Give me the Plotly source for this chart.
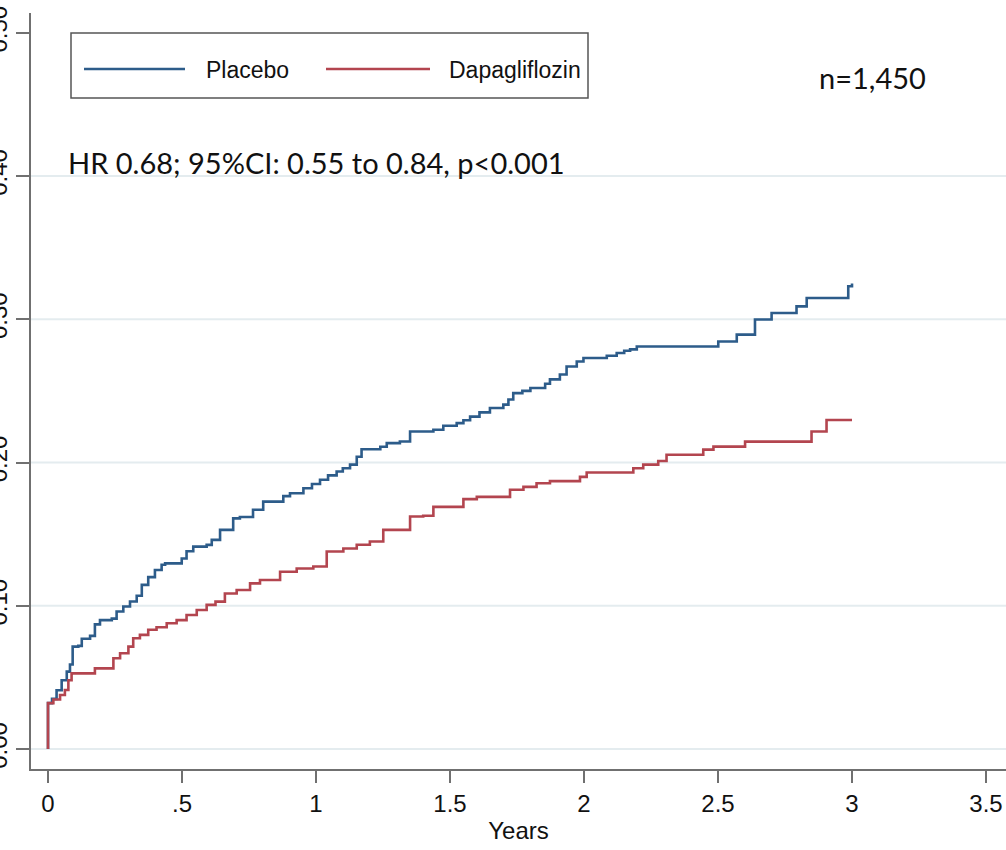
import plotly.graph_objects as go

# ---------------- data ----------------
placebo_t = [0, 0, 0.015, 0.032, 0.051, 0.070, 0.082, 0.092, 0.113, 0.126, 0.157, 0.175, 0.194,
             0.238, 0.256, 0.281, 0.306, 0.331, 0.350, 0.374, 0.399, 0.424, 0.437, 0.499, 0.517,
             0.542, 0.592, 0.611, 0.642, 0.691, 0.716, 0.765, 0.803, 0.878, 0.903, 0.953, 0.985,
             1.015, 1.045, 1.077, 1.100, 1.127, 1.152, 1.170, 1.240, 1.264, 1.313, 1.351, 1.438,
             1.475, 1.525, 1.550, 1.575, 1.610, 1.649, 1.699, 1.718, 1.736, 1.770, 1.800, 1.855,
             1.873, 1.910, 1.935, 1.973, 1.998, 2.085, 2.122, 2.150, 2.172, 2.197, 2.501, 2.570,
             2.638, 2.700, 2.793, 2.831, 2.986, 3.000]
placebo_v = [0, 0.032, 0.035, 0.041, 0.048, 0.054, 0.059, 0.0715, 0.072, 0.077, 0.079, 0.087, 0.090,
             0.091, 0.096, 0.0995, 0.103, 0.107, 0.1146, 0.120, 0.125, 0.1286, 0.1296, 0.133, 0.138,
             0.1413, 0.1425, 0.146, 0.153, 0.161, 0.162, 0.167, 0.1727, 0.1765, 0.1785, 0.182, 0.185,
             0.188, 0.191, 0.1937, 0.196, 0.1985, 0.204, 0.2093, 0.211, 0.2135, 0.2147, 0.2216, 0.2229,
             0.2257, 0.2275, 0.2295, 0.232, 0.235, 0.238, 0.2404, 0.244, 0.2484, 0.250, 0.252, 0.255,
             0.258, 0.2614, 0.267, 0.2705, 0.273, 0.2745, 0.2764, 0.278, 0.279, 0.281, 0.2845, 0.2893,
             0.2998, 0.3044, 0.309, 0.3148, 0.323, 0.325]

dapa_t = [0, 0, 0.020, 0.045, 0.063, 0.076, 0.088, 0.175, 0.244, 0.269, 0.300, 0.318, 0.343, 0.374,
          0.405, 0.443, 0.480, 0.517, 0.555, 0.592, 0.625, 0.660, 0.704, 0.754, 0.791, 0.866, 0.928,
          0.990, 1.040, 1.102, 1.152, 1.201, 1.251, 1.351, 1.400, 1.438, 1.550, 1.600, 1.724, 1.774,
          1.823, 1.873, 1.985, 2.010, 2.184, 2.221, 2.277, 2.308, 2.445, 2.483, 2.601, 2.849, 2.905,
          3.000]
dapa_v = [0, 0.032, 0.0346, 0.0377, 0.0412, 0.048, 0.0528, 0.0563, 0.0633, 0.0668, 0.0715, 0.0773,
          0.0797, 0.0832, 0.085, 0.0878, 0.090, 0.0935, 0.097, 0.1006, 0.1029, 0.1086, 0.111, 0.1156,
          0.118, 0.1237, 0.126, 0.1274, 0.1379, 0.140, 0.1426, 0.1449, 0.153, 0.1623, 0.1628, 0.169,
          0.1744, 0.176, 0.181, 0.183, 0.1855, 0.187, 0.190, 0.193, 0.196, 0.1985, 0.201, 0.2054,
          0.209, 0.2111, 0.2146, 0.2216, 0.2297, 0.2297]

series_names = ["Placebo", "Dapagliflozin"]
x_tickvals = [0, 0.5, 1, 1.5, 2, 2.5, 3, 3.5]
x_ticktext = ["0", ".5", "1", "1.5", "2", "2.5", "3", "3.5"]
y_tickvals = [0, 0.1, 0.2, 0.3, 0.4, 0.5]
y_ticktext = ["0.00", "0.10", "0.20", "0.30", "0.40", "0.50"]
hr_text = "HR 0.68; 95%CI: 0.55 to 0.84, p<0.001"
n_text = "n=1,450"
x_title = "Years"

# ---------------- styling ----------------
BLUE = "#2d5c8a"
RED = "#b3454f"
AXIS = "#707070"
GRID = "#e4ecef"
NARROW = "Liberation Sans Narrow, Arial Narrow, Liberation Sans, Arial, sans-serif"
HUMAN = "Lato, Carlito, Calibri, sans-serif"

W, H = 1006, 850
L, R, T, B = 31, 0, 13, 81

fig = go.Figure()
fig.add_trace(go.Scatter(x=placebo_t, y=placebo_v, mode="lines", name=series_names[0],
                         line=dict(color=BLUE, width=2.6, shape="hv"), showlegend=False))
fig.add_trace(go.Scatter(x=dapa_t, y=dapa_v, mode="lines", name=series_names[1],
                         line=dict(color=RED, width=2.6, shape="hv"), showlegend=False))

# horizontal gridlines (Stata style: not at the top tick)
for v in y_tickvals[:-1]:
    fig.add_shape(type="line", xref="paper", x0=0, x1=1, yref="y", y0=v, y1=v,
                  line=dict(color=GRID, width=2), layer="below")

pw = W - L - R
ph = H - T - B
def px(x):
    return (x - L) / pw
def py(y):
    return (H - B - y) / ph

# custom legend box
fig.add_shape(type="rect", xref="paper", yref="paper", x0=px(71), x1=px(588), y0=py(98), y1=py(33),
              line=dict(color="#555555", width=1.5), fillcolor="white")
fig.add_shape(type="line", xref="paper", yref="paper", x0=px(84), x1=px(185), y0=py(69), y1=py(69),
              line=dict(color=BLUE, width=2.6))
fig.add_shape(type="line", xref="paper", yref="paper", x0=px(326), x1=px(430), y0=py(69), y1=py(69),
              line=dict(color=RED, width=2.6))
fig.add_annotation(xref="paper", yref="paper", x=px(204), y=py(70), text=series_names[0],
                   showarrow=False, xanchor="left", yanchor="middle",
                   font=dict(family=NARROW, size=23, color="#111111"))
fig.add_annotation(xref="paper", yref="paper", x=px(447), y=py(70), text=series_names[1],
                   showarrow=False, xanchor="left", yanchor="middle",
                   font=dict(family=NARROW, size=23, color="#111111"))

fig.add_annotation(xref="paper", yref="paper", x=px(66), y=py(163), text=hr_text,
                   showarrow=False, xanchor="left", yanchor="middle",
                   font=dict(family=HUMAN, size=29, color="#111111"))
fig.add_annotation(xref="paper", yref="paper", x=px(817), y=py(78), text=n_text,
                   showarrow=False, xanchor="left", yanchor="middle",
                   font=dict(family=HUMAN, size=29, color="#111111"))

fig.update_layout(
    width=W, height=H,
    margin=dict(l=L, r=R, t=T, b=B, autoexpand=False),
    paper_bgcolor="white", plot_bgcolor="white",
    showlegend=False,
    font=dict(family=NARROW, color="#111111"),
)
fig.update_xaxes(range=[-17 / 268, (W - 48) / 268], tickvals=x_tickvals, ticktext=x_ticktext,
                 showgrid=False, zeroline=False, showline=True, linecolor=AXIS, linewidth=1.8,
                 ticks="outside", ticklen=12, tickwidth=1.8, tickcolor=AXIS,
                 tickfont=dict(family=NARROW, size=24, color="#111111"),
                 title=dict(text=x_title, font=dict(family=NARROW, size=24, color="#111111"), standoff=6),
                 automargin=False)
fig.update_yaxes(range=[-20 / 1432.5, 736 / 1432.5], tickvals=y_tickvals, ticktext=y_ticktext,
                 tickangle=-90, showgrid=False, zeroline=False, showline=True, linecolor=AXIS,
                 linewidth=1.8, ticks="outside", ticklen=13, tickwidth=1.8, tickcolor=AXIS,
                 tickfont=dict(family=NARROW, size=24, color="#111111"), automargin=False)

fig.write_html("out.html")
